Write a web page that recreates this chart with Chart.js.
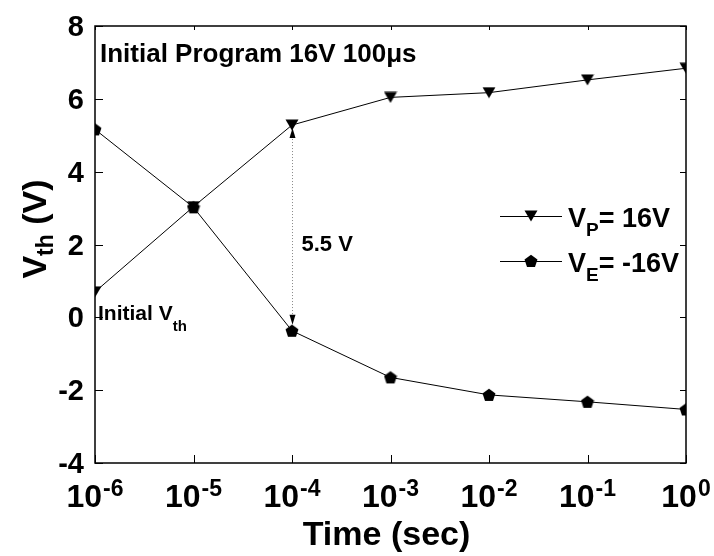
<!DOCTYPE html>
<html>
<head>
<meta charset="utf-8">
<script src="https://cdn.jsdelivr.net/npm/chart.js@4.4.1/dist/chart.umd.min.js"></script>
<style>
  body { margin: 0; background: #fff; }
  #wrap { width: 714px; height: 556px; }
</style>
</head>
<body>
<div id="wrap"><canvas id="vth_graph"></canvas></div>
<script>
// data
const timeValues = [1e-6, 1e-5, 1e-4, 1e-3, 1e-2, 1e-1, 1];
const vpValues = [0.70, 3.04, 5.28, 6.04, 6.17, 6.52, 6.84];
const veValues = [5.16, 3.02, -0.37, -1.65, -2.13, -2.32, -2.53];

const xTickValues = [1e-6, 1e-5, 1e-4, 1e-3, 1e-2, 1e-1, 1];
const xTickExps = ['-6', '-5', '-4', '-3', '-2', '-1', '0'];
const yTickValues = [-4, -2, 0, 2, 4, 6, 8];

const seriesLabels = [['V', 'P', '= 16V'], ['V', 'E', '= -16V']];
const windowIndex = 2; // 10^-4 s
const windowLabel = '5.5 V';

const FONT = '"Liberation Sans", Arial, sans-serif';

// marker images
function makeTriangle() {
    const c = document.createElement('canvas');
    c.width = 14; c.height = 12;
    const g = c.getContext('2d');
    g.fillStyle = '#000';
    g.beginPath();
    g.moveTo(0.5, 0.5); g.lineTo(13.5, 0.5); g.lineTo(7, 11.5);
    g.closePath(); g.fill();
    return c;
}
function makePentagon() {
    const c = document.createElement('canvas');
    c.width = 14; c.height = 14;
    const g = c.getContext('2d');
    g.fillStyle = '#000';
    g.beginPath();
    for (let i = 0; i < 5; i++) {
        const a = -Math.PI / 2 + i * 2 * Math.PI / 5;
        const px = 7 + 6.8 * Math.cos(a), py = 7.6 + 6.8 * Math.sin(a);
        if (i === 0) g.moveTo(px, py); else g.lineTo(px, py);
    }
    g.closePath(); g.fill();
    return c;
}
const triImg = makeTriangle();
const pentImg = makePentagon();

function createDataset(label, xValues, yValues, marker) {
    return {
        label: label,
        data: xValues.map((x, i) => ({ x, y: yValues[i] })),
        showLine: true,
        borderColor: '#000',
        borderWidth: 1,
        pointStyle: marker,
        pointRadius: 7,
        clip: 0
    };
}

function txt(ctx, s, x, y, size, align) {
    ctx.font = 'bold ' + size + 'px ' + FONT;
    ctx.textAlign = align || 'left';
    ctx.fillText(s, x, y);
    return ctx.measureText(s).width;
}

const decorPlugin = {
    id: 'decor',
    afterDraw(chart) {
        const ctx = chart.ctx;
        const a = chart.chartArea;
        const xs = chart.scales.x, ys = chart.scales.y;
        ctx.save();
        ctx.fillStyle = '#000';
        ctx.strokeStyle = '#000';
        ctx.textBaseline = 'alphabetic';

        // frame
        ctx.lineWidth = 1.5;
        ctx.strokeRect(a.left, a.top, a.right - a.left, a.bottom - a.top);

        // ticks (inward)
        ctx.lineWidth = 1;
        ctx.beginPath();
        xTickValues.forEach(v => {
            const px = Math.round(xs.getPixelForValue(v)) + 0.5;
            ctx.moveTo(px, a.bottom); ctx.lineTo(px, a.bottom - 8);
            ctx.moveTo(px, a.top); ctx.lineTo(px, a.top + 4);
        });
        yTickValues.forEach(v => {
            const py = Math.round(ys.getPixelForValue(v)) + 0.5;
            ctx.moveTo(a.left, py); ctx.lineTo(a.left + 8, py);
            ctx.moveTo(a.right, py); ctx.lineTo(a.right - 6, py);
        });
        ctx.stroke();

        // x tick labels 10^n
        xTickValues.forEach((v, i) => {
            const px = xs.getPixelForValue(v);
            ctx.font = 'bold 32px ' + FONT;
            const w1 = ctx.measureText('10').width;
            ctx.font = 'bold 23px ' + FONT;
            const w2 = ctx.measureText(xTickExps[i]).width;
            const x0 = px - (w1 + w2 + 1) / 2;
            txt(ctx, '10', x0, a.bottom + 44, 32);
            txt(ctx, xTickExps[i], x0 + w1 + 1, a.bottom + 33, 23);
        });

        // y tick labels
        yTickValues.forEach(v => {
            const py = ys.getPixelForValue(v);
            txt(ctx, String(v), a.left - 11, py + 10, 29, 'right');
        });

        // x title
        txt(ctx, 'Time (sec)', (a.left + a.right) / 2 - 4, 545, 34, 'center');

        // y title (rotated)
        ctx.save();
        ctx.translate(46, 229);
        ctx.rotate(-Math.PI / 2);
        ctx.font = 'bold 34px ' + FONT;
        const wV = ctx.measureText('V').width;
        ctx.font = 'bold 23px ' + FONT;
        const wSub = ctx.measureText('th').width;
        ctx.font = 'bold 34px ' + FONT;
        const wRest = ctx.measureText(' (V)').width;
        let tx = -(wV + wSub + wRest) / 2;
        tx += txt(ctx, 'V', tx, 0, 34);
        tx += txt(ctx, 'th', tx, 7, 23);
        txt(ctx, ' (V)', tx, 0, 34);
        ctx.restore();

        // annotations
        txt(ctx, 'Initial Program 16V 100\u03bcs', a.left + 5, a.top + 36, 26);
        let ix = a.left + 3;
        ix += txt(ctx, 'Initial V', ix, 320, 21);
        txt(ctx, 'th', ix, 331, 15);

        // 5.5 V window marker
        const wx = Math.round(xs.getPixelForValue(timeValues[windowIndex])) + 0.5;
        const yTop = ys.getPixelForValue(vpValues[windowIndex]);
        const yBot = ys.getPixelForValue(veValues[windowIndex]);
        ctx.save();
        ctx.strokeStyle = '#888';
        ctx.setLineDash([1, 2]);
        ctx.beginPath();
        ctx.moveTo(wx, yTop + 8); ctx.lineTo(wx, yBot - 8);
        ctx.stroke();
        ctx.restore();
        ctx.beginPath();
        ctx.moveTo(wx, yTop + 3); ctx.lineTo(wx - 3, yTop + 13); ctx.lineTo(wx + 3, yTop + 13);
        ctx.closePath(); ctx.fill();
        ctx.beginPath();
        ctx.moveTo(wx, yBot - 6); ctx.lineTo(wx - 3, yBot - 16); ctx.lineTo(wx + 3, yBot - 16);
        ctx.closePath(); ctx.fill();
        txt(ctx, windowLabel, wx + 9, 251, 22);

        // legend
        const markers = [triImg, pentImg];
        seriesLabels.forEach((lab, i) => {
            const ly = 216 + i * 45;
            ctx.lineWidth = 1;
            ctx.beginPath();
            ctx.moveTo(500, ly + 0.5); ctx.lineTo(562, ly + 0.5);
            ctx.stroke();
            const m = markers[i];
            ctx.drawImage(m, 531 - m.width / 2, ly - m.height / 2);
            let lx = 568;
            lx += txt(ctx, lab[0], lx, ly + 11, 27);
            lx += txt(ctx, lab[1], lx, ly + 20, 19);
            txt(ctx, lab[2], lx, ly + 11, 27);
        });

        ctx.restore();
    }
};

const ctx = document.getElementById('vth_graph').getContext('2d');
new Chart(ctx, {
    type: 'scatter',
    data: {
        datasets: [
            createDataset('VP = 16V', timeValues, vpValues, triImg),
            createDataset('VE = -16V', timeValues, veValues, pentImg)
        ]
    },
    options: {
        responsive: true,
        maintainAspectRatio: false,
        animation: false,
        layout: { padding: { left: 95, right: 28, top: 26, bottom: 93 } },
        plugins: { legend: { display: false }, tooltip: { enabled: false } },
        scales: {
            x: { type: 'logarithmic', min: 1e-6, max: 1, display: false },
            y: { type: 'linear', min: -4, max: 8, display: false }
        }
    },
    plugins: [decorPlugin]
});
</script>
</body>
</html>
